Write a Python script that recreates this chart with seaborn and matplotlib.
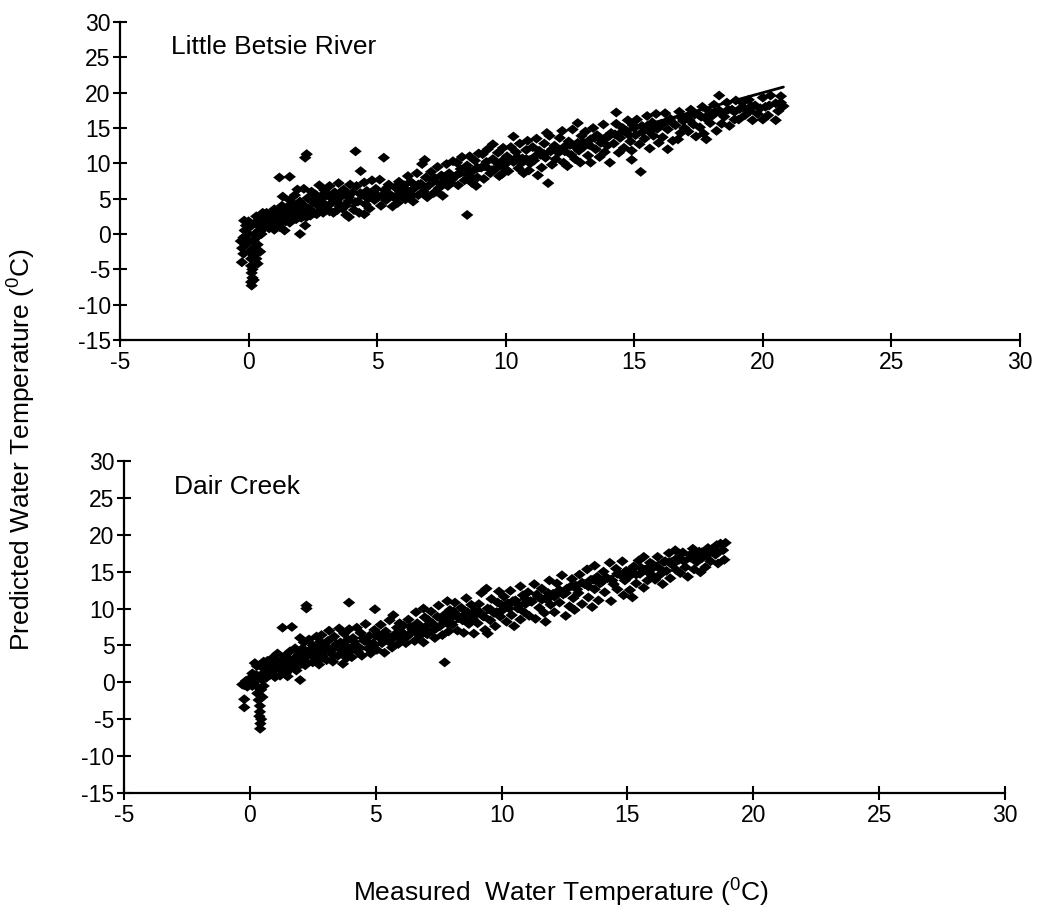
import matplotlib
matplotlib.use("Agg")
import matplotlib.pyplot as plt
import numpy as np
import pandas as pd
import seaborn as sns

# ---------------------------------------------------------------
# data (measured vs predicted, deg C)
# ---------------------------------------------------------------

lb_measured = [
    -0.3, -0.25, -0.2, -0.26, -0.2, -0.15, -0.17, -0.1, -0.1, 0.0, 0.0, 0.05, 0.05, 0.1, 0.1, 0.12, 0.12, 0.15, 0.15, 0.2,
    0.2, 0.2, 0.25, 0.25, 0.3, 0.3, 0.35, 0.35, 0.4, 0.4, 0.45, 0.5, 0.5, 0.55, 0.6, 0.6, 0.2, 0.1, 0.3, 0.0,
    0.7, 0.7, 0.8, 0.8, 0.9, 0.9, 1.0, 1.0, 1.0, 1.1, 1.1, 1.2, 1.2, 1.3, 1.3, 1.33, 1.4, 1.4, 1.5, 1.5,
    1.6, 1.6, 1.7, 1.7, 1.8, 1.8, 1.9, 1.9, 2.0, 2.0, 2.0, 1.2, 1.6, 1.9, 1.8, 1.6,
    2.1, 2.15, 2.2, 2.3, 2.35, 2.45, 2.5, 2.55, 2.6, 2.7, 2.75, 2.8, 2.85, 2.9, 2.95, 2.2, 2.26, 2.2,
    3.05, 3.1, 3.15, 3.2, 3.3, 3.35, 3.4, 3.5, 3.55, 3.6, 3.7, 3.75, 3.8, 3.85, 3.9, 3.95, 3.9,
    4.05, 4.1, 4.16, 4.2, 4.25, 4.3, 4.36, 4.4, 4.5, 4.55, 4.6, 4.7, 4.75, 4.8, 4.9, 4.95, 4.5,
    5.05, 5.1, 5.15, 5.26, 5.3, 5.35, 5.45, 5.5, 5.6, 5.7, 5.75, 5.8, 5.85, 5.9, 5.95,
    6.05, 6.1, 6.2, 6.25, 6.3, 6.4, 6.45, 6.55, 6.6, 6.7, 6.75, 6.8, 6.85, 6.9, 6.95,
    7.05, 7.1, 7.2, 7.25, 7.35, 7.4, 7.5, 7.55, 7.6, 7.7, 7.75, 7.8, 7.9, 7.95, 7.3,
    8.05, 8.1, 8.15, 8.25, 8.3, 8.4, 8.5, 8.5, 8.55, 8.6, 8.7, 8.75, 8.8, 8.9, 8.95, 8.85,
    9.05, 9.1, 9.15, 9.25, 9.3, 9.4, 9.5, 9.5, 9.6, 9.7, 9.75, 9.86, 9.85, 9.9, 9.95,
    10.05, 10.1, 10.2, 10.3, 10.3, 10.4, 10.5, 10.55, 10.65, 10.7, 10.8, 10.85, 10.95, 10.9,
    11.05, 11.1, 11.25, 11.2, 11.35, 11.4, 11.5, 11.55, 11.65, 11.7, 11.75, 11.8, 11.9, 11.95, 11.6,
    12.05, 12.1, 12.2, 12.25, 12.3, 12.4, 12.45, 12.55, 12.6, 12.7, 12.8, 12.8, 12.85, 12.95, 12.9,
    13.05, 13.1, 13.2, 13.3, 13.3, 13.4, 13.5, 13.55, 13.65, 13.7, 13.8, 13.85, 13.9, 14.05, 13.95,
    14.1, 14.2, 14.3, 14.3, 14.4, 14.45, 14.55, 14.6, 14.7, 14.75, 14.85, 14.9, 14.95, 14.9,
    15.05, 15.1, 15.2, 15.25, 15.3, 15.4, 15.5, 15.55, 15.6, 15.7, 15.75, 15.85, 15.9, 15.95,
    16.05, 16.1, 16.2, 16.3, 16.3, 16.4, 16.5, 16.6, 16.7, 16.75, 16.8, 16.9, 16.95,
    17.05, 17.1, 17.2, 17.3, 17.4, 17.5, 17.55, 17.65, 17.7, 17.8, 17.8, 17.9, 17.95,
    18.05, 18.1, 18.2, 18.3, 18.3, 18.4, 18.5, 18.6, 18.7, 18.8, 18.9, 18.95,
    19.06, 19.1, 19.2, 19.3, 19.45, 19.5, 19.6, 19.7, 19.8, 20.0, 20.0, 20.1, 20.2, 20.3, 20.5, 20.5, 20.6, 20.8, 20.7,
    # dense core of the band
    0.75, 0.95, 1.05, 1.15, 1.25, 1.35, 1.45, 1.55, 1.65, 1.75, 1.85, 1.95, 2.05, 2.25, 2.4, 2.4, 2.65, 2.65, 2.9, 2.9,
    3.15, 3.25, 3.45, 3.45, 3.65, 3.65, 3.9, 4.15, 4.35, 4.65, 4.85, 5.2, 5.4, 5.65, 5.9, 6.15, 6.35, 6.6, 6.85, 7.15,
    7.45, 7.65, 7.85, 8.2, 8.45, 8.65, 8.9, 9.2, 9.45, 9.65, 9.9, 10.15, 10.45, 10.6, 10.8, 11.15, 11.3, 11.5, 11.8, 12.0,
    12.3, 12.5, 12.75, 13.0, 13.25, 13.45, 13.75, 14.0, 14.25, 14.5, 14.8, 15.0, 15.3, 15.5, 15.8, 16.0, 16.25, 16.5, 16.85, 17.15,
    17.35, 17.6, 17.9, 18.15, 18.4, 18.65, 18.9, 19.25, 19.55, 19.9, 20.25, 20.7,
]
lb_predicted = [
    -1.0, -2.0, -2.8, -4.0, -0.5, 0.5, 1.9, 1.2, -1.5, 0.0, -1.0, -2.5, 1.0, -3.5, -4.5, -5.5, -7.3, -6.2, -5.0, -3.0,
    -2.0, -1.0, 0.0, 1.5, 2.5, -0.5, -1.5, -4.2, 0.5, 2.0, -2.5, 1.0, 0.0, 3.0, 2.2, 0.8, -6.5, -6.8, -3.5, 1.8,
    1.5, 3.0, 2.0, 0.8, 2.8, 1.2, 2.2, 3.5, 0.6, 2.9, 1.8, 3.4, 1.0, 2.5, 4.0, 5.3, 2.0, 0.5, 3.1, 3.8,
    2.6, 1.6, 3.4, 4.3, 2.2, 3.0, 3.9, 2.8, 0.0, 3.3, 4.6, 8.0, 8.1, 6.3, 5.5, 4.8,
    4.2, 6.4, 2.9, 5.1, 3.6, 6.0, 4.5, 3.0, 5.6, 4.0, 6.9, 3.3, 5.0, 4.4, 6.2, 1.2, 11.3, 10.8,
    3.6, 5.5, 6.8, 4.3, 3.0, 5.9, 4.8, 7.2, 3.9, 5.3, 6.3, 4.1, 2.7, 5.6, 2.4, 7.0, 4.7,
    5.9, 3.4, 11.7, 6.8, 4.6, 3.0, 8.9, 5.5, 7.3, 4.2, 6.1, 3.6, 5.2, 7.6, 4.8, 6.4, 2.8,
    5.3, 7.7, 4.0, 10.8, 6.2, 4.8, 7.0, 5.6, 3.9, 6.6, 5.0, 4.4, 7.4, 6.0, 5.4,
    6.9, 4.9, 8.2, 5.8, 7.4, 4.6, 6.5, 8.6, 5.5, 7.1, 9.9, 6.0, 10.5, 8.0, 5.2,
    7.0, 8.8, 5.8, 7.9, 9.5, 6.5, 8.3, 5.4, 7.4, 9.9, 6.8, 8.6, 7.7, 10.3, 6.0,
    8.2, 10.1, 6.9, 9.2, 10.9, 7.6, 2.7, 9.7, 8.5, 11.0, 7.2, 9.0, 10.4, 8.0, 11.4, 6.8,
    9.4, 11.3, 7.8, 10.2, 12.0, 8.6, 12.7, 10.6, 9.2, 11.5, 8.2, 8.5, 10.3, 12.2, 9.8,
    11.0, 8.9, 12.3, 13.8, 10.2, 11.6, 9.3, 12.8, 10.7, 8.6, 11.9, 13.2, 10.0, 9.0,
    12.3, 10.4, 8.3, 13.5, 11.2, 9.4, 12.8, 10.8, 7.2, 13.9, 11.7, 9.8, 12.5, 10.6, 14.3,
    11.5, 13.6, 14.6, 10.1, 12.4, 9.6, 13.1, 11.2, 14.8, 10.6, 15.7, 12.9, 11.8, 13.9, 10.1,
    12.4, 14.5, 11.1, 10.1, 13.4, 15.0, 12.0, 14.0, 10.9, 12.9, 15.5, 11.6, 13.7, 10.1, 12.5,
    14.3, 12.8, 17.2, 15.6, 11.5, 13.6, 15.0, 12.2, 14.6, 16.1, 13.1, 10.5, 15.4, 11.8,
    14.0, 16.2, 12.7, 8.8, 15.3, 13.5, 16.7, 14.6, 12.1, 15.8, 13.9, 17.0, 14.9, 12.9,
    15.6, 13.7, 17.1, 12.0, 14.8, 16.3, 13.2, 15.4, 13.4, 17.3, 14.3, 16.0, 15.0,
    16.6, 14.5, 17.6, 15.5, 13.8, 16.9, 15.1, 18.0, 14.2, 13.4, 16.3, 17.4, 15.7,
    16.8, 18.3, 14.6, 19.6, 17.5, 15.6, 16.6, 18.6, 15.3, 17.6, 16.2, 18.9,
    16.2, 17.7, 18.6, 16.8, 19.0, 17.4, 16.1, 18.2, 17.0, 16.2, 19.3, 18.0, 16.8, 19.6, 16.1, 18.5, 17.4, 18.1, 19.5,
    # dense core of the band
    2.2, 1.7, 1.3, 2.6, 1.6, 3.0, 1.8, 2.3, 1.9, 2.7, 2.1, 3.4, 2.3, 2.4, 2.6, 4.9, 2.8, 4.7, 3.0, 5.6,
    3.2, 5.0, 3.4, 4.5, 3.6, 6.0, 5.2, 4.5, 5.8, 5.0, 6.0, 5.5, 6.6, 5.2, 6.8, 6.2, 5.4, 7.0, 6.4, 7.6,
    7.1, 8.1, 7.3, 8.6, 9.3, 8.0, 9.4, 9.6, 9.0, 10.1, 9.4, 10.4, 10.9, 10.0, 10.6, 11.0, 11.8, 11.3, 12.0, 12.1,
    11.7, 12.6, 12.2, 13.0, 12.6, 13.6, 13.3, 13.8, 14.1, 14.4, 14.0, 15.0, 14.4, 15.3, 15.1, 15.3, 15.9, 15.7, 16.4, 16.1,
    16.9, 16.6, 16.9, 17.3, 17.0, 17.6, 17.3, 17.9, 18.1, 17.8, 18.2, 18.6,
]

dc_measured = [
    -0.3, -0.22, -0.22, -0.22, -0.15, -0.1, 0.0, 0.05, 0.1, 0.15, 0.2, 0.25, 0.3, 0.3, 0.35, 0.35, 0.4, 0.4, 0.41, 0.45,
    0.45, 0.38, 0.42, 0.5, 0.5, 0.5, 0.55, 0.55, 0.6, 0.6, 0.65, 0.7, 0.7, 0.1, 0.28,
    0.8, 0.85, 0.9, 0.95, 1.0, 1.05, 1.1, 1.15, 1.2, 1.25, 1.3, 1.3, 1.4, 1.45, 1.5, 1.5, 1.6, 1.67, 1.65, 1.75,
    1.8, 1.85, 1.9, 1.95, 2.0, 2.0,
    2.05, 2.1, 2.15, 2.2, 2.25, 2.25, 2.3, 2.35, 2.4, 2.5, 2.5, 2.6, 2.65, 2.7, 2.75, 2.8, 2.9, 2.95, 2.85,
    3.05, 3.1, 3.15, 3.2, 3.3, 3.35, 3.4, 3.5, 3.55, 3.6, 3.7, 3.75, 3.8, 3.85, 3.9, 3.94, 3.95, 3.98,
    4.05, 4.1, 4.2, 4.25, 4.3, 4.4, 4.45, 4.55, 4.6, 4.7, 4.75, 4.8, 4.9, 4.97, 4.95,
    5.05, 5.1, 5.2, 5.25, 5.35, 5.4, 5.5, 5.55, 5.65, 5.7, 5.75, 5.85, 5.9, 5.95,
    6.05, 6.1, 6.2, 6.3, 6.35, 6.45, 6.55, 6.6, 6.65, 6.75, 6.8, 6.9, 6.9, 6.95,
    7.05, 7.1, 7.2, 7.3, 7.35, 7.45, 7.5, 7.55, 7.65, 7.74, 7.75, 7.8, 7.85, 7.9, 7.95,
    8.05, 8.1, 8.15, 8.25, 8.3, 8.4, 8.5, 8.55, 8.6, 8.7, 8.8, 8.85, 8.9, 8.95,
    9.05, 9.1, 9.2, 9.25, 9.35, 9.4, 9.45, 9.45, 9.55, 9.6, 9.7, 9.75, 9.85, 9.9, 9.95,
    10.05, 10.1, 10.2, 10.25, 10.35, 10.4, 10.5, 10.55, 10.65, 10.75, 10.75, 10.85, 10.9, 10.95,
    11.05, 11.1, 11.2, 11.3, 11.35, 11.45, 11.5, 11.6, 11.7, 11.75, 11.8, 11.9, 11.95,
    12.05, 12.1, 12.2, 12.3, 12.4, 12.45, 12.55, 12.6, 12.7, 12.8, 12.85, 12.95, 12.9,
    13.05, 13.1, 13.2, 13.3, 13.4, 13.45, 13.55, 13.6, 13.7, 13.7, 13.8, 13.85, 13.95,
    14.05, 14.1, 14.2, 14.3, 14.35, 14.45, 14.55, 14.6, 14.7, 14.8, 14.85, 14.9, 14.95,
    15.05, 15.1, 15.2, 15.25, 15.35, 15.45, 15.5, 15.65, 15.65, 15.75, 15.8, 15.9, 15.95,
    16.05, 16.1, 16.2, 16.3, 16.4, 16.45, 16.55, 16.65, 16.7, 16.8, 16.9, 16.95,
    17.05, 17.1, 17.2, 17.3, 17.4, 17.5, 17.6, 17.65, 17.75, 17.85, 17.9, 17.95,
    18.05, 18.1, 18.2, 18.3, 18.4, 18.5, 18.55, 18.6, 18.7, 18.85, 18.9, 18.8,
    # dense core of the band
    0.75, 0.9, 1.05, 1.2, 1.35, 1.5, 1.6, 1.75, 1.9, 2.05, 2.2, 2.35, 2.5, 2.65, 2.8, 2.95, 3.15, 3.3, 3.45, 3.65,
    3.8, 4.0, 4.15, 4.35, 4.5, 4.7, 4.85, 5.0, 5.25, 5.45, 5.6, 5.8, 6.0, 6.25, 6.4, 6.65, 6.85, 7.0, 7.25, 7.4,
    7.6, 7.85, 8.0, 8.2, 8.45, 8.65, 8.9, 9.1, 9.3, 9.55, 9.8, 10.0, 10.3, 10.45, 10.7, 10.95, 11.15, 11.4, 11.6, 11.85,
    12.1, 12.3, 12.55, 12.75, 13.0, 13.2, 13.45, 13.65, 13.9, 14.15, 14.4, 14.6, 14.85, 15.1, 15.35, 15.55, 15.8, 16.0, 16.25, 16.5,
    16.75, 17.0, 17.25, 17.5, 17.7, 17.95, 18.15, 18.35, 18.6,
]
dc_predicted = [
    -0.3, -2.3, -3.4, -0.4, 0.2, -0.6, 0.5, -0.2, 1.2, 0.0, 2.6, 1.0, -0.6, -1.5, -2.4, 0.8, -3.2, -4.0, -6.3, -5.0,
    -1.0, -4.6, -5.6, -2.0, 0.3, 2.0, 2.8, -0.5, 1.4, 2.2, 0.6, 1.8, 2.9, -0.5, 2.2,
    1.0, 2.5, 3.3, 1.6, 0.7, 2.8, 3.9, 1.9, 0.9, 3.0, 7.4, 2.2, 3.6, 1.3, 0.8, 2.7, 4.2, 7.5, 2.0, 3.2,
    4.6, 1.6, 2.6, 3.8, 0.3, 6.0,
    3.0, 4.6, 5.4, 2.3, 10.4, 10.0, 3.7, 5.8, 4.4, 2.7, 5.0, 3.4, 6.2, 4.1, 2.4, 5.5, 3.6, 4.8, 6.4,
    3.0, 5.6, 7.0, 4.2, 2.8, 6.2, 4.9, 3.6, 7.3, 5.4, 2.5, 6.6, 4.0, 3.3, 5.8, 10.8, 7.2, 4.6,
    3.4, 6.0, 5.0, 7.4, 4.1, 6.7, 3.6, 5.6, 7.9, 4.6, 6.3, 3.9, 5.3, 9.9, 7.1,
    4.4, 6.5, 7.8, 5.3, 4.0, 6.9, 5.7, 8.4, 4.7, 9.1, 6.3, 7.4, 5.2, 8.0,
    6.0, 7.7, 5.3, 8.5, 6.6, 7.2, 5.6, 9.5, 8.0, 6.3, 7.5, 10.0, 5.4, 8.8,
    6.5, 8.4, 9.6, 7.1, 6.0, 8.9, 10.4, 7.6, 6.4, 2.7, 9.2, 8.1, 11.0, 6.9, 9.8,
    7.8, 9.6, 10.8, 7.0, 8.7, 10.1, 6.7, 9.2, 11.4, 7.9, 10.5, 8.6, 6.6, 9.7,
    8.0, 10.6, 12.1, 9.0, 7.1, 12.7, 6.6, 10.0, 8.4, 11.3, 9.4, 7.6, 10.8, 12.3, 8.9,
    9.8, 11.6, 8.2, 10.7, 12.4, 9.1, 7.6, 11.1, 10.0, 13.0, 8.5, 11.8, 9.5, 10.6,
    12.2, 9.0, 10.9, 13.3, 8.6, 11.6, 10.1, 12.7, 9.4, 8.2, 11.2, 13.8, 10.5,
    12.0, 9.5, 13.4, 10.8, 14.5, 11.9, 9.0, 12.7, 10.3, 14.0, 11.4, 13.1, 9.8,
    12.1, 14.6, 10.6, 13.3, 15.3, 11.5, 13.9, 10.2, 15.8, 12.6, 14.3, 11.1, 13.5,
    15.0, 12.2, 14.1, 16.2, 11.0, 13.3, 15.4, 12.6, 14.6, 16.4, 11.8, 13.8, 15.1,
    14.3, 12.5, 11.5, 15.7, 13.4, 16.5, 14.7, 17.0, 12.8, 15.3, 13.8, 16.2, 14.6,
    15.6, 13.9, 17.0, 14.6, 13.3, 16.3, 15.1, 17.5, 14.1, 16.0, 17.9, 15.2,
    16.6, 14.8, 17.6, 15.6, 14.3, 16.9, 18.1, 15.3, 16.3, 17.7, 14.9, 16.8,
    17.2, 15.6, 18.2, 16.4, 17.6, 17.3, 18.6, 16.1, 18.8, 16.6, 18.9, 17.9,
    # dense core of the band
    2.0, 1.5, 1.9, 2.5, 1.6, 3.2, 2.4, 2.0, 3.1, 3.8, 2.9, 4.2, 3.5, 4.6, 3.2, 4.1, 4.6, 3.7, 5.2, 4.3,
    5.0, 4.4, 5.5, 4.7, 6.0, 5.4, 4.4, 6.3, 5.8, 6.4, 5.3, 6.6, 6.9, 6.2, 7.5, 6.8, 7.2, 7.6, 8.0, 7.3,
    8.6, 8.0, 8.7, 9.2, 8.4, 9.5, 9.0, 9.6, 8.9, 9.9, 9.5, 10.5, 10.0, 11.0, 10.4, 11.3, 11.0, 11.9, 11.2, 12.1,
    11.6, 12.5, 12.1, 13.0, 12.6, 13.5, 13.0, 13.9, 13.4, 14.2, 13.8, 14.7, 14.3, 15.1, 14.6, 15.5, 15.0, 16.0, 15.5, 16.4,
    16.0, 16.9, 16.4, 17.3, 16.9, 17.6, 17.2, 18.0, 17.6,
]

# 1:1 reference lines (start / end of measured range)
lb_line = [-0.3, 20.8]
dc_line = [-0.3, 18.9]

panel_names = ["Little Betsie River", "Dair Creek"]
axis_ticks = [-5, 0, 5, 10, 15, 20, 25, 30]
y_ticks = [-15, -10, -5, 0, 5, 10, 15, 20, 25, 30]

# ---------------------------------------------------------------
# style
# ---------------------------------------------------------------

sns.set_style("ticks")
plt.rcParams['font.family'] = ['Liberation Sans', 'DejaVu Sans']
plt.rcParams['mathtext.fontset'] = 'custom'
plt.rcParams['mathtext.rm'] = 'Liberation Sans'
plt.rcParams['axes.unicode_minus'] = False
plt.rcParams['text.color'] = 'black'

diamond = [(-1, 0), (0, 0.8), (1, 0), (0, -0.8), (-1, 0)]

fig = plt.figure(figsize=(10.39, 9.18), dpi=100)

ax_top = fig.add_axes([0.1155, 0.6296, 0.8662, 0.3464])
ax_bot = fig.add_axes([0.1193, 0.1362, 0.8480, 0.3617])

panels = [
    (ax_top, lb_measured, lb_predicted, lb_line, panel_names[0]),
    (ax_bot, dc_measured, dc_predicted, dc_line, panel_names[1]),
]

for ax, mx, py, ln, name in panels:
    df = pd.DataFrame({"measured": mx, "predicted": py})
    sns.lineplot(x=ln, y=ln, color="black", linewidth=2, ax=ax)
    sns.scatterplot(
        data=df,
        x="measured",
        y="predicted",
        marker=diamond,
        s=80,
        color="black",
        edgecolor="none",
        linewidth=0,
        ax=ax
    )

    ax.set_xlim(-5, 30)
    ax.set_ylim(-15, 30)
    ax.set_xticks(axis_ticks)
    ax.set_yticks(y_ticks)
    ax.set_xlabel("")
    ax.set_ylabel("")
    sns.despine(ax=ax)
    for sp in ["left", "bottom"]:
        ax.spines[sp].set_linewidth(1.6)
        ax.spines[sp].set_color("black")
    ax.tick_params(direction="inout", length=9.5, width=1.5, colors="black",
                   labelsize=16.5, labelcolor="black")
    ax.tick_params(axis="y", pad=2)
    ax.tick_params(axis="x", pad=3)
    ax.text(-3.0, 26.5, name, fontsize=19, va="center", ha="left",
            color="black")

fig.text(0.021, 0.51, "Predicted Water Temperature ($\\mathrm{^{0}}$C)",
         rotation=90, fontsize=19, ha="center", va="center", color="black")
fig.text(0.54, 0.027, "Measured  Water Temperature ($\\mathrm{^{0}}$C)",
         fontsize=19, ha="center", va="center", color="black")

fig.savefig("out.png", dpi=100)
